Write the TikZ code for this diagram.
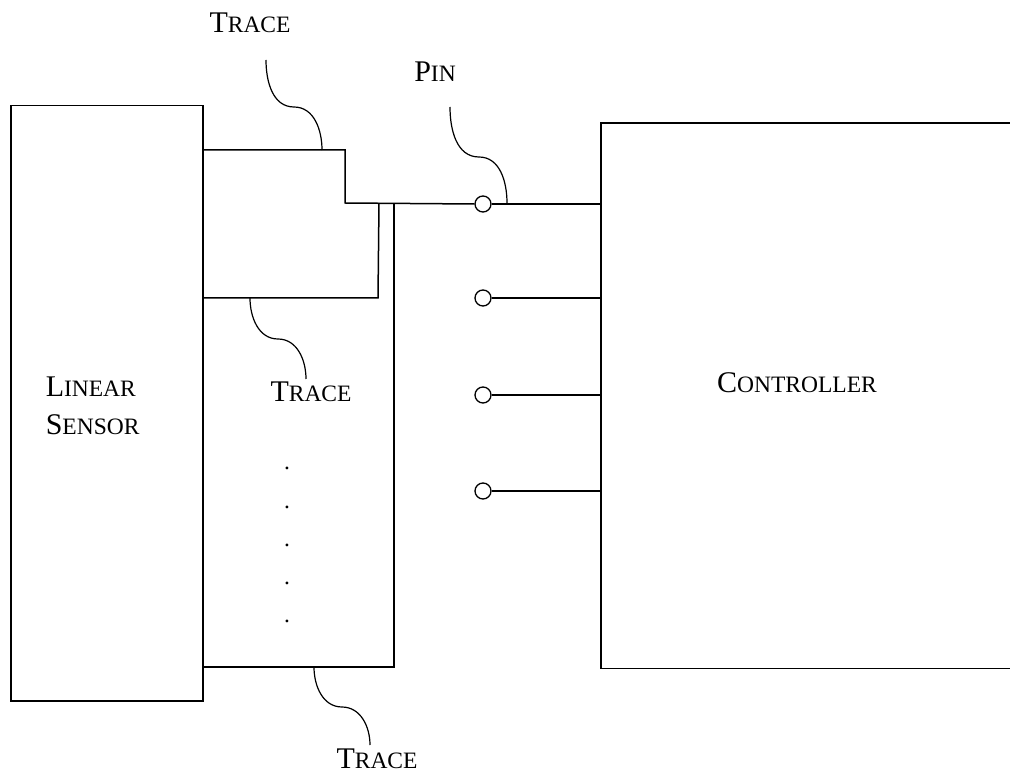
\documentclass[tikz,border=0pt]{standalone}
\usepackage{fontspec}
\setmainfont{Liberation Serif}
\newcommand{\fsc}[2]{{\fontsize{30}{38}\selectfont #1}{\fontsize{23.5}{38}\selectfont #2}}
\begin{document}
\begin{tikzpicture}[x=1pt,y=-1pt,line width=1.5pt,
  blockbox/.style={draw,rectangle,inner sep=0pt,anchor=north west},
  openbox/.style={rectangle,inner sep=0pt,anchor=north west},
  pinnode/.style={draw,circle,minimum size=16pt,inner sep=0pt,fill=white,line width=1.3pt},
  lbl/.style={inner sep=0pt,font=\fontsize{30}{38}\selectfont},
  dotlbl/.style={inner sep=0pt,font=\fontsize{23.5}{26}\selectfont},
  callout/.style={line width=1.2pt}]
\useasboundingbox (0,0) rectangle (1010,775);

% blocks
\node[blockbox,minimum width=192pt,minimum height=595pt] (sensor) at (10,105) {};
\node[openbox,minimum width=409pt,minimum height=544pt] (ctrl) at (601,123) {};
\draw (ctrl.north east) -- (ctrl.north west) -- (ctrl.south west) -- (ctrl.south east);

% labels
\node[lbl,anchor=west,align=left] (sensorlbl) at (45,406) {\fsc{L}{INEAR}\\\fsc{S}{ENSOR}};
\node[lbl] (ctrllbl) at (797,383) {\fsc{C}{ONTROLLER}};

% pins
\node[pinnode] (p1) at (483,204) {};
\node[pinnode] (p2) at (483,298) {};
\node[pinnode] (p3) at (483,395) {};
\node[pinnode] (p4) at (483,491) {};

% coordinates for traces
\coordinate (a1) at (202,150);
\coordinate (a2) at (345,150);
\coordinate (a3) at (345,203);
\coordinate (b1) at (202,298);
\coordinate (b2) at (378,298);
\coordinate (b3) at (379,203);
\coordinate (c1) at (202,667);
\coordinate (c2) at (394,667);
\coordinate (c3) at (394,203);

% traces
\draw (a1) -- (a2) -- (a3) -- (p1.west);
\draw (b1) -- (b2) -- (b3);
\draw (c1) -- (c2) -- (c3);

% pin lines
\draw (p1.east) -- (p1.east -| ctrl.west);
\draw (p2.east) -- (p2.east -| ctrl.west);
\draw (p3.east) -- (p3.east -| ctrl.west);
\draw (p4.east) -- (p4.east -| ctrl.west);

% dots
\foreach \y [count=\i] in {467,505,543,581,619}
  \node[dotlbl,anchor=base] (dot\i) at (287,\y+3) {.};

% callout labels
\node[lbl,anchor=base] (tr1) at (250,33) {\fsc{T}{RACE}};
\node[lbl,anchor=base] (pinlbl) at (435,82) {\fsc{P}{IN}};
\node[lbl,anchor=base] (tr2) at (311,402) {\fsc{T}{RACE}};
\node[lbl,anchor=base] (tr3) at (377,768) {\fsc{T}{RACE}};

% callouts
\coordinate (q1s) at (266,60);
\coordinate (q1m) at (294,107);
\coordinate (q1e) at (322,150);
\draw[callout] (q1s) to[out=-90,in=180] (q1m) to[out=0,in=90] (q1e);

\coordinate (q2s) at (450,107);
\coordinate (q2m) at (479,157);
\coordinate (q2e) at (507,203);
\draw[callout] (q2s) to[out=-90,in=180] (q2m) to[out=0,in=90] (q2e);

\coordinate (q3s) at (250,298);
\coordinate (q3m) at (278,339);
\coordinate (q3e) at (306,379);
\draw[callout] (q3s) to[out=-90,in=180] (q3m) to[out=0,in=90] (q3e);

\coordinate (q4s) at (314,667);
\coordinate (q4m) at (342,707);
\coordinate (q4e) at (370,745);
\draw[callout] (q4s) to[out=-90,in=180] (q4m) to[out=0,in=90] (q4e);
\end{tikzpicture}
\end{document}
